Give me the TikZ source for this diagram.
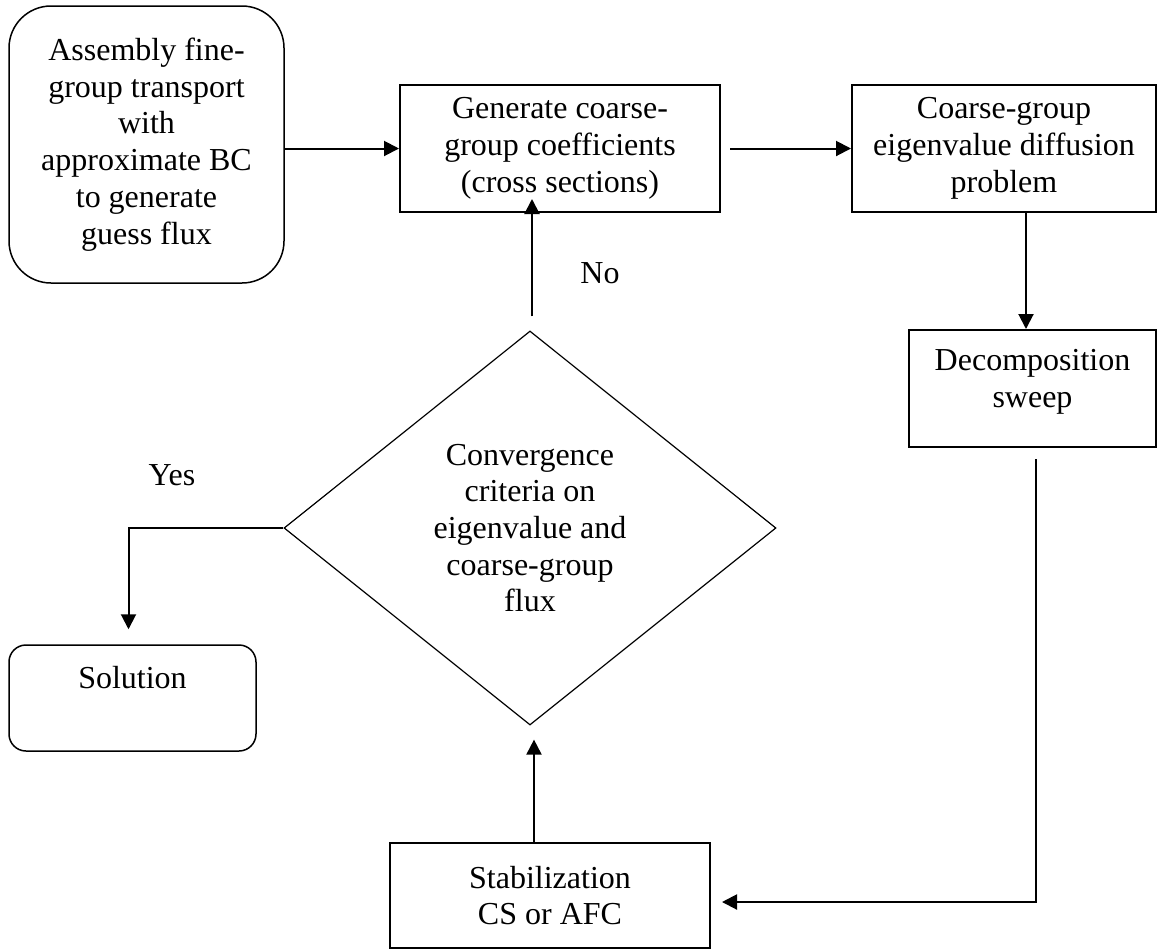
\documentclass[tikz,border=0pt]{standalone}
\usepackage{fontspec}
\setmainfont{Liberation Serif}
\usetikzlibrary{shapes.geometric,arrows.meta}
\begin{document}
\begin{tikzpicture}[x=0.5pt,y=-0.5pt,
  every node/.style={font=\fontsize{16}{18.35}\selectfont, align=center, inner sep=0pt},
  procbox/.style={draw, rectangle, line width=1pt},
  termbox/.style={draw, rectangle, rounded corners=#1, line width=0.75pt},
  decide/.style={draw, diamond, line width=0.6pt},
  arr/.style={line width=1pt, -{Triangle[length=7.5pt,width=7.5pt]}}]
\useasboundingbox (0,0) rectangle (1158,949);

\node[termbox=21pt, minimum width=137.5pt, minimum height=138.5pt] (start) at (146.5,144.5)
  {Assembly fine-\\group transport\\with\\approximate BC\\to generate\\guess flux};
\node[procbox, minimum width=160pt, minimum height=63.5pt] (gen) at (560,148.5)
  {Generate coarse-\\group coefficients\\(cross sections)};
\node[procbox, minimum width=152pt, minimum height=63.5pt] (coarse) at (1004,148.5)
  {Coarse-group\\eigenvalue diffusion\\problem};
\node[procbox, minimum width=123.5pt, minimum height=58.5pt] (dec) at (1032.5,388.5) {};
\node (dectext) at ([yshift=3.5pt]dec.center) {Decomposition\\sweep};
\node[decide, minimum width=246pt, minimum height=197pt] (dia) at (530,528)
  {Convergence\\criteria on\\eigenvalue and\\coarse-group\\flux};
\node[termbox=8.5pt, minimum width=123.5pt, minimum height=53pt] (sol) at (132.5,698) {};
\node (soltext) at ([yshift=10pt]sol.center) {Solution};
\node[procbox, minimum width=160pt, minimum height=52.5pt] (stab) at (550,895.5)
  {Stabilization\\CS or AFC};

\node (no) at (600,273) {No};
\node (yes) at (172,475) {Yes};

\coordinate (diaB) at ([yshift=-7pt]dia.south);

\draw[arr] (gen.west -| start.east) -- (gen.west);
\draw[arr] ([xshift=4.5pt]gen.east) -- (coarse.west);
\draw[arr] ([xshift=11pt]coarse.south) -- ([xshift=11pt]coarse.south |- dec.north);
\draw[arr] ([xshift=1.5pt,yshift=-5.5pt]dec.south) |- ([xshift=5.5pt,yshift=-3.25pt]stab.east);
\draw[arr] ([xshift=-8pt]stab.north) -- ([xshift=-8pt]stab.north |- diaB);
\draw[arr] ([xshift=1pt,yshift=7pt]dia.north) -- ([xshift=1pt,yshift=7pt]dia.north |- gen.south);
\draw[arr] (dia.west) -| ([xshift=-2pt,yshift=7.5pt]sol.north);
\end{tikzpicture}
\end{document}
